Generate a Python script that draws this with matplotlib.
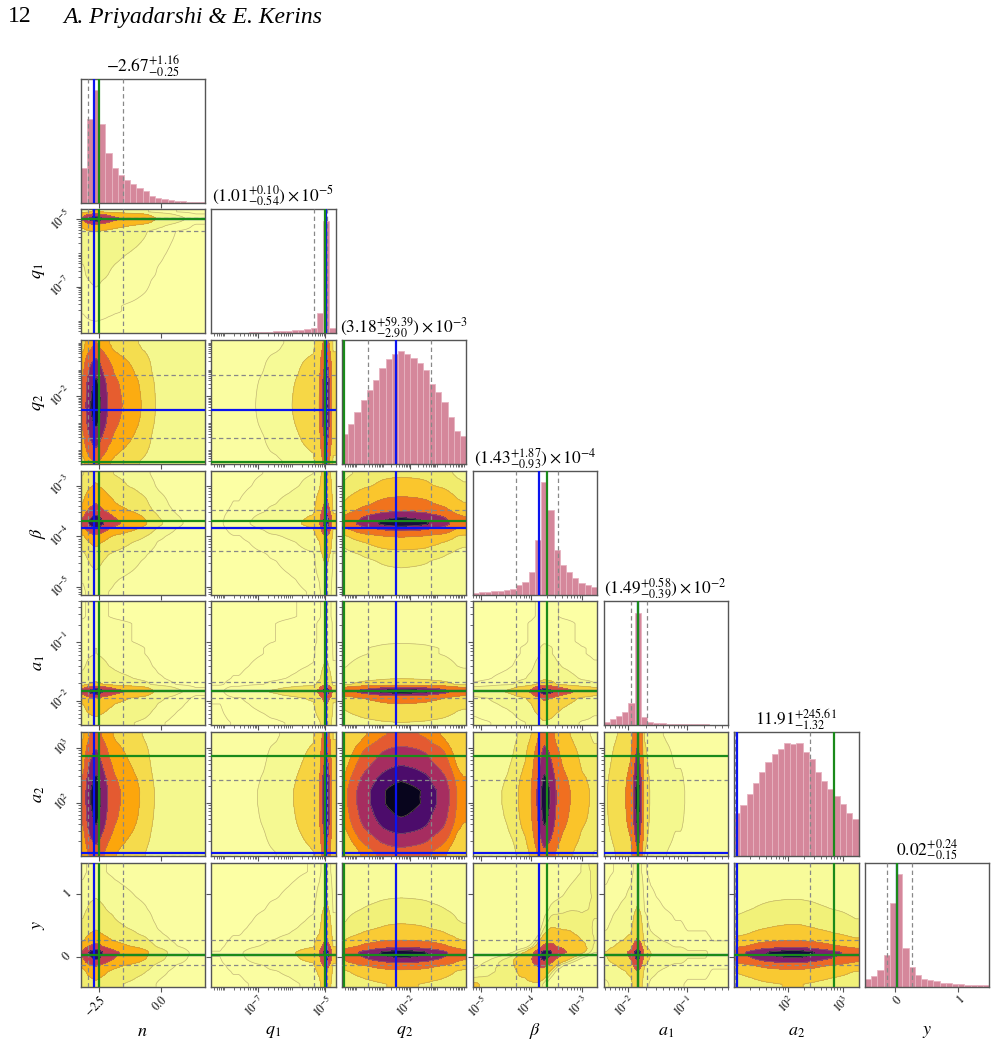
import math
import numpy as np
import matplotlib
matplotlib.use("Agg")
import matplotlib.pyplot as plt
from matplotlib.ticker import FixedLocator, FixedFormatter, LogLocator, NullFormatter, NullLocator

plt.rcParams['mathtext.fontset'] = 'stix'
plt.rcParams['font.family'] = ['Liberation Serif', 'DejaVu Serif']
plt.rcParams['axes.unicode_minus'] = True

# ---------------- data ----------------
labels = [r'$n$', r'$q_1$', r'$q_2$', r'$\beta$', r'$a_1$', r'$a_2$', r'$y$']
is_log = [False, True, True, True, True, True, False]
# axis ranges (log10 of the value for log parameters)
ranges = [(-3.23, 1.77), (-8.38, -4.70), (-4.52, 0.10), (-5.16, -2.70),
          (-2.42, -0.30), (1.02, 3.29), (-0.48, 1.49)]
titles = [r'$-2.67^{+1.16}_{-0.25}$',
          r'$(1.01^{+0.10}_{-0.54})\times10^{-5}$',
          r'$(3.18^{+59.39}_{-2.90})\times10^{-3}$',
          r'$(1.43^{+1.87}_{-0.93})\times10^{-4}$',
          r'$(1.49^{+0.58}_{-0.39})\times10^{-2}$',
          r'$11.91^{+245.61}_{-1.32}$',
          r'$0.02^{+0.24}_{-0.15}$']
medians = [-2.67, 1.01e-5, 3.18e-3, 1.43e-4, 1.49e-2, 11.91, 0.02]
q16 = [-2.92, 0.47e-5, 0.28e-3, 0.50e-4, 1.10e-2, 10.59, -0.13]
q84 = [-1.51, 1.11e-5, 62.57e-3, 3.30e-4, 2.07e-2, 257.52, 0.26]
truths = [-2.5, 1.0e-5, 3.7e-5, 2.0e-4, 1.45e-2, 700.0, 0.02]

# marginal histogram heights (20 bins across each range)
n_hist = [102, 245, 330, 230, 145, 102, 82, 67, 55, 43, 33, 20, 13, 10, 7, 5, 4, 3, 2, 2]
q1_hist = [1, 1, 1.5, 2, 2, 2.5, 3, 3.5, 4, 5, 5.5, 6.5, 7.5, 9, 11, 13, 15, 59, 331, 16]
q2_hist = [88, 118, 153, 190, 218, 250, 286, 310, 325, 334, 326, 315, 300, 278, 238, 213, 183, 138, 98, 83]
beta_hist = [6, 7, 8, 10, 12, 14, 18, 29, 39, 69, 164, 339, 254, 134, 89, 69, 49, 34, 29, 22]
a1_hist = [11, 18, 28, 41, 68, 339, 24, 11, 8, 6, 5, 4, 4, 3, 3, 3, 3, 2, 2, 2]
a2_hist = [130, 153, 186, 218, 253, 283, 306, 320, 338, 336, 338, 313, 290, 253, 225, 200, 180, 156, 128, 110]
y_hist = [22, 32, 49, 96, 251, 337, 116, 59, 34, 24, 19, 16, 12, 10, 8, 7, 6, 5, 4, 4]
hists = [n_hist, q1_hist, q2_hist, beta_hist, a1_hist, a2_hist, y_hist]
# correlation between parameter pairs seen in the 2-D panels
pair_corr = {(3, 6): 0.6}

major_ticks = [[-2.5, 0.0], [1e-7, 1e-5], [1e-2], [1e-5, 1e-4, 1e-3],
               [1e-2, 1e-1], [1e2, 1e3], [0, 1]]
major_labels = [['$-2.5$', '$0.0$'], [r'$10^{-7}$', r'$10^{-5}$'], [r'$10^{-2}$'],
                [r'$10^{-5}$', r'$10^{-4}$', r'$10^{-3}$'], [r'$10^{-2}$', r'$10^{-1}$'],
                [r'$10^{2}$', r'$10^{3}$'], ['$0$', '$1$']]

mass_levels = [0.118, 0.393, 0.675, 0.865, 0.955]
tail_link = 0.13  # joint tails of the 2-D posteriors go together

# ---------------- styles ----------------
W, H = 996, 1046
fig = plt.figure(figsize=(W / 100, H / 100), dpi=100)
K = 7
x0, colstep, pw = 80.5, 130.75, 124.3
y0, rowstep, ph = 78.7, 130.67, 124.0
hist_face = '#d5879b'
hist_edge = '#e7b3c1'
blue = '#0a14f0'
green = '#1a8a1a'
spine_c = '#555555'
NF = 101  # rendering grid for the 2-D panels

_zt = np.linspace(0, 6, 3001)
_Ft = np.array([0.5 * (1 + math.erf(z / math.sqrt(2))) for z in _zt])


def ppf(F):
    F = np.clip(F, 1e-9, 1 - 1e-9)
    up = np.interp(np.maximum(F, 1 - F), _Ft, _zt)
    return np.where(F >= 0.5, up, -up)


def to_val(k, v):
    return 10 ** v if is_log[k] else v


def lim(k):
    lo, hi = ranges[k]
    return to_val(k, lo), to_val(k, hi)


def marginal_fine(k):
    h = np.asarray(hists[k], float)
    p = h / h.sum()
    lo, hi = ranges[k]
    e = np.linspace(lo, hi, len(h) + 1)
    c = 0.5 * (e[1:] + e[:-1])
    z = ppf(np.cumsum(p) - 0.5 * p)
    f = np.linspace(lo, hi, NF)
    pf = np.interp(f, c, p)
    return f, np.log(pf / pf.max()), np.interp(f, c, z), pf


def setup_axis(ax, k, which):
    axis = ax.xaxis if which == 'x' else ax.yaxis
    if is_log[k]:
        (ax.set_xscale if which == 'x' else ax.set_yscale)('log')
        axis.set_minor_locator(LogLocator(base=10, subs=np.arange(1, 10), numticks=50))
        axis.set_minor_formatter(NullFormatter())
    else:
        axis.set_minor_locator(NullLocator())
    axis.set_major_locator(FixedLocator(major_ticks[k]))
    axis.set_major_formatter(FixedFormatter(major_labels[k]))
    (ax.set_xlim if which == 'x' else ax.set_ylim)(*lim(k))


def style(ax):
    for s in ax.spines.values():
        s.set_color(spine_c)
        s.set_linewidth(1.0)
    ax.tick_params(which='major', direction='out', length=3.5, width=0.8, color=spine_c,
                   labelsize=8.5, pad=1)
    ax.tick_params(which='minor', direction='out', length=2, width=0.6, color=spine_c)


for i in range(K):
    for j in range(i + 1):
        left = (x0 + j * colstep) / W
        bottom = 1 - (y0 + i * rowstep + ph) / H
        ax = fig.add_axes([left, bottom, pw / W, ph / H])
        style(ax)
        if i == j:
            lo, hi = ranges[j]
            e = np.linspace(lo, hi, len(hists[j]) + 1)
            ev = to_val(j, e)
            hv = np.asarray(hists[j], float)
            ax.bar(ev[:-1], hv, width=np.diff(ev), align='edge', color=hist_face,
                   edgecolor=hist_edge, linewidth=0.6, zorder=1)
            setup_axis(ax, j, 'x')
            ax.set_ylim(0, 1.1 * hv.max())
            ax.yaxis.set_major_locator(NullLocator())
            ax.yaxis.set_minor_locator(NullLocator())
            for q in (q16[j], q84[j]):
                ax.axvline(q, color='#888888', ls=(0, (3.5, 2.5)), lw=0.9, zorder=3)
            ax.axvline(medians[j], color=blue, lw=1.6, zorder=4)
            ax.axvline(truths[j], color=green, lw=1.6, zorder=5)
            ax.set_title(titles[j], fontsize=12.5, pad=1.5)
        else:
            fx, Lx, zx, px = marginal_fine(j)
            fy, Ly, zy, py = marginal_fine(i)
            rho = pair_corr.get((j, i), 0.0)
            LX, LY = np.meshgrid(Lx, Ly)
            ZX, ZY = np.meshgrid(zx, zy)
            cop = -(rho ** 2 * (ZX ** 2 + ZY ** 2) - 2 * rho * ZX * ZY) / (2 * (1 - rho ** 2))
            D = np.exp(LX + LY + tail_link * LX * LY + cop)
            order = np.argsort(-D.ravel(), kind='stable')
            Ds = D.ravel()[order]
            cw = np.cumsum(Ds)
            cw /= cw[-1]
            V = np.empty(len(mass_levels))
            for k, v0 in enumerate(mass_levels):
                sel = Ds[cw <= v0]
                V[k] = sel[-1] if len(sel) else Ds[0]
            V.sort()
            m = np.diff(V) == 0
            while np.any(m):
                V[np.where(m)[0][0]] *= 1.0 - 1e-4
                m = np.diff(V) == 0
            X, Y = np.meshgrid(to_val(j, fx), to_val(i, fy))
            lv = np.concatenate([[0], V, [D.max() * (1 + 1e-4)]])
            ax.contourf(X, Y, D, lv, cmap='inferno_r', antialiased=False, zorder=1)
            ax.contour(X, Y, D, V, colors='#a08a62', linewidths=0.5, alpha=0.6, zorder=2)
            setup_axis(ax, j, 'x')
            setup_axis(ax, i, 'y')
            for q in (q16[j], q84[j]):
                ax.axvline(q, color='#888888', ls=(0, (3.5, 2.5)), lw=0.9, zorder=3)
            for q in (q16[i], q84[i]):
                ax.axhline(q, color='#888888', ls=(0, (3.5, 2.5)), lw=0.9, zorder=3)
            ax.axvline(medians[j], color=blue, lw=1.6, zorder=4)
            ax.axhline(medians[i], color=blue, lw=1.6, zorder=4)
            ax.axvline(truths[j], color=green, lw=1.6, zorder=5)
            ax.axhline(truths[i], color=green, lw=1.6, zorder=5)
            if j == 0:
                for t in ax.get_yticklabels():
                    t.set_rotation(45)
                    t.set_ha('right')
                    t.set_va('center')
            else:
                ax.tick_params(axis='y', which='both', labelleft=False)
        if i == K - 1:
            for t in ax.get_xticklabels():
                t.set_rotation(45)
                t.set_ha('right')
                t.set_va('top')
                t.set_rotation_mode('anchor')
        else:
            ax.tick_params(axis='x', which='both', labelbottom=False)

# axis labels
for k in range(K):
    cxp = (x0 + k * colstep + pw / 2) / W
    fig.text(cxp, 1 - 1031 / H, labels[k], fontsize=13, ha='center', va='center')
for k in range(1, K):
    cyp = 1 - (y0 + k * rowstep + ph / 2) / H
    fig.text(38 / W, cyp, labels[k], fontsize=13, ha='center', va='center', rotation=90)

# running header
fig.text(8 / W, 1 - 17 / H, '12', fontsize=17, ha='left', va='center')
fig.text(63 / W, 1 - 17 / H, 'A. Priyadarshi & E. Kerins', fontsize=17,
         style='italic', ha='left', va='center')

fig.savefig('out.png', dpi=100)
